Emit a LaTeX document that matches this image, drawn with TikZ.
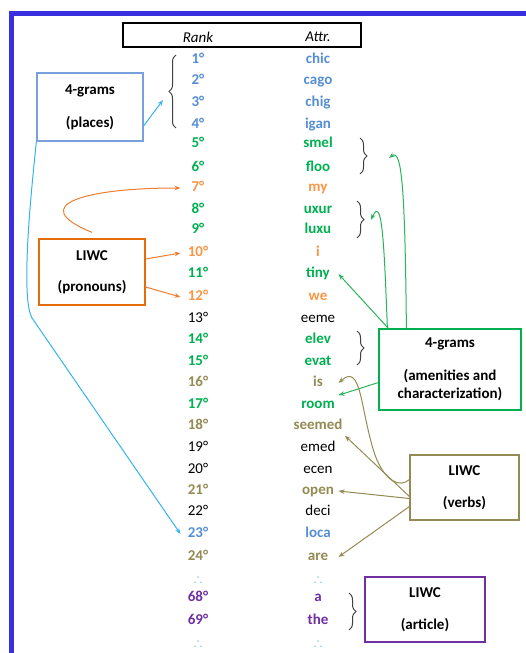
\documentclass[tikz,border=0pt]{standalone}
\usepackage{amssymb}
\usepackage{fontspec}
\setmainfont{Carlito}
\usepackage{tikz}
\usetikzlibrary{calc}
\usetikzlibrary{positioning}
\usetikzlibrary{arrows.meta}
\usetikzlibrary{decorations.pathreplacing}

\definecolor{frameblue}{RGB}{57,47,222}
\definecolor{txtblue}{RGB}{85,142,213}
\definecolor{plcblue}{RGB}{120,160,220}
\definecolor{skyblue}{RGB}{51,180,240}
\definecolor{txtgreen}{RGB}{0,176,80}
\definecolor{arrgreen}{RGB}{40,180,90}
\definecolor{txtorange}{RGB}{247,150,70}
\definecolor{boxorange}{RGB}{228,108,10}
\definecolor{arrorange}{RGB}{236,125,49}
\definecolor{tan}{RGB}{148,138,84}
\definecolor{txtpurple}{RGB}{112,48,160}
\definecolor{dotblue}{RGB}{60,160,200}
\definecolor{bracegray}{RGB}{64,64,64}

\newcommand{\lbl}{\fontsize{15}{18}\selectfont}

\begin{document}
\begin{tikzpicture}[x=1pt, y=-1pt, ->, >={Stealth[length=6pt, width=4.5pt]}, line width=1pt]
    \tikzstyle{row}=[font=\lbl\bfseries, text height=11pt, text depth=3.5pt, inner sep=2pt]
    \tikzstyle{rankcol}=[minimum width=34pt]
    \tikzstyle{attrcol}=[minimum width=40pt]
    \tikzstyle{cblue}=[row, text=txtblue]
    \tikzstyle{cgreen}=[row, text=txtgreen]
    \tikzstyle{corange}=[row, text=txtorange]
    \tikzstyle{ctan}=[row, text=tan]
    \tikzstyle{cpurple}=[row, text=txtpurple]
    \tikzstyle{cblack}=[row, font=\lbl, text=black]
    \tikzstyle{dotsty}=[text=dotblue, font=\fontsize{12}{12}\selectfont, inner sep=0pt]
    \tikzstyle{box}=[draw, rectangle, line width=1.2pt, font=\lbl\bfseries, align=center, inner sep=0pt]
    \tikzstyle{brc}=[-, decorate, decoration={brace, amplitude=7pt}, draw=bracegray, line width=1pt]
    \tikzstyle{skyarr}=[->, draw=skyblue]
    \tikzstyle{orgarr}=[->, draw=arrorange]
    \tikzstyle{grnarr}=[->, draw=arrgreen]
    \tikzstyle{tanarr}=[->, draw=tan]

    \useasboundingbox (0,0) rectangle (526,653);

    % frame
    \fill[frameblue] (9,11) rectangle (526,16);
    \fill[frameblue] (9,11) rectangle (14,653);

    % header
    \node[draw, line width=1.3pt, minimum width=238pt, minimum height=24pt, inner sep=0pt] (head) at (242,35) {};
    \node[font=\lbl\itshape] (hrank) at (198,37) {Rank};
    \node[font=\lbl\itshape] (hattr) at (318,37) {Attr.};

    % ranking
    \foreach \n/\w/\c/\y in {1/chic/cblue/60, 2/cago/cblue/81, 3/chig/cblue/103, 4/igan/cblue/125,
        5/smel/cgreen/144, 6/floo/cgreen/168, 7/my/corange/188, 8/uxur/cgreen/210,
        9/luxu/cgreen/230, 10/i/corange/253, 11/tiny/cgreen/274, 12/we/corange/297,
        13/eeme/cblack/319, 14/elev/cgreen/340, 15/evat/cgreen/362, 16/is/ctan/383,
        17/room/cgreen/405, 18/seemed/ctan/426, 19/emed/cblack/448, 20/ecen/cblack/470,
        21/open/ctan/491, 22/deci/cblack/512, 23/loca/cblue/534, 24/are/ctan/557,
        68/a/cpurple/598, 69/the/cpurple/621} {
        \node[\c, rankcol] (r\n) at (198,\y) {\n°};
        \node[\c, attrcol] (a\n) at (318,\y) {\w};
    }
    \node[dotsty] (rd1) at (198,578) {$\therefore$};
    \node[dotsty] (ad1) at (318,578) {$\therefore$};
    \node[dotsty] (rd2) at (198,642) {$\therefore$};
    \node[dotsty] (ad2) at (318,642) {$\therefore$};

    % boxes
    \node[box, draw=plcblue, minimum width=106pt, minimum height=68pt] (places) at (90,107) {4-grams\\[15pt](places)};
    \node[box, draw=boxorange, minimum width=106pt, minimum height=66pt] (pronouns) at (92,272) {LIWC\\[13pt](pronouns)};
    \node[box, draw=txtgreen, minimum width=142pt, minimum height=81pt] (amenities) at (450,369.5) {4-grams\\[15pt](amenities and\\characterization)};
    \node[box, draw=tan, minimum width=109pt, minimum height=65pt] (verbs) at (464.5,487.5) {LIWC\\[14pt](verbs)};
    \node[box, draw=txtpurple, minimum width=120pt, minimum height=65pt] (article) at (425,609.5) {LIWC\\[14pt](article)};

    % braces
    \draw[brc] (176,128) -- (176,55);
    \draw[brc] (360,138) -- (360,174);
    \draw[brc] (357,201) -- (357,238);
    \draw[brc] (357,331) -- (357,365);
    \draw[brc] (349,593) -- (349,630);
    \coordinate (p1) at (163,100);
    \coordinate (g1) at (389,158);
    \coordinate (g2) at (371,220);

    % places
    \draw[skyarr] ([yshift=-19pt]places.east) -- (p1);
    \draw[skyarr] (places.south west) .. controls (28,220) and (22,300) .. (32,318) -- (r23.west);

    % pronouns
    \draw[orgarr] ([yshift=6pt]pronouns.north) .. controls (25,205) and (85,188) .. (r7.west);
    \draw[orgarr] ([yshift=13pt]pronouns.east) -- (r10.west);
    \draw[orgarr] ([yshift=-15pt]pronouns.east) -- (r12.west);

    % amenities
    \draw[grnarr] ([xshift=10pt]amenities.north west) -- (a11.east);
    \draw[grnarr] ([xshift=9pt]amenities.north west) .. controls (384,240) and (382,195) .. (g2);
    \draw[grnarr] ([xshift=28pt]amenities.north west) .. controls (405,190) and (402,148) .. (g1);
    \draw[grnarr] ([yshift=-13pt]amenities.west) -- (a17.north east);

    % verbs
    \draw[tanarr] ([yshift=8pt]verbs.west) .. controls (400,488) and (385,482) .. (375,455) .. controls (360,410) and (362,362) .. (a16.east);
    \draw[tanarr] ([yshift=-9pt]verbs.west) -- (a18.south east);
    \draw[tanarr] ([yshift=-11pt]verbs.west) -- (a21.east);
    \draw[tanarr] ([yshift=-19pt]verbs.west) -- (a24.east);
\end{tikzpicture}
\end{document}
